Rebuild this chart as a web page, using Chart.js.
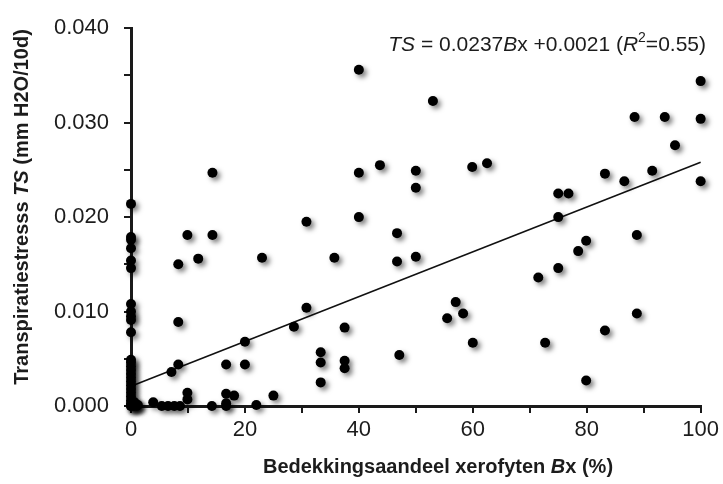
<!DOCTYPE html>
<html>
<head>
<meta charset="utf-8">
<script src="https://cdn.jsdelivr.net/npm/chart.js@4"></script>
<style>
  html, body { margin: 0; padding: 0; background: #fff; }
  #wrap { width: 723px; height: 484px; }
</style>
</head>
<body>
<div id="wrap"><canvas id="tsChart" width="723" height="484"></canvas></div>
<script>
// bedekkingsaandeel xerofyten (%) en transpiratiestress per opname
const coverX = [
  0, 0, 0, 0, 0, 0, 0, 0, 0, 0, 0, 0, 0, 0, 0, 0, 0, 0, 0, 0, 0, 0, 0, 0, 0, 0,
  0.5, 0.8, 1.0, 0.3, 1.2, 0.6,
  3.9, 5.4, 6.5, 7.6, 8.6, 7.1, 8.3, 8.3, 8.3, 9.9, 9.9, 9.9, 11.8, 14.3, 14.3, 14.2,
  16.7, 16.7, 16.7, 16.7, 18.1, 20.0, 20.0, 22.0, 23.0, 25.0, 28.6, 30.8, 30.8,
  33.3, 33.3, 33.3, 35.7, 37.5, 37.5, 37.5, 40.0, 40.0, 40.0, 43.7, 46.7, 46.7, 47.1,
  50.0, 50.0, 50.0, 53.0, 55.5, 57.0, 58.3, 60.0, 59.9, 62.5, 71.5, 72.7,
  75.0, 76.8, 75.0, 75.0, 78.5, 79.9, 79.9, 83.2, 83.2, 86.6, 88.4, 88.8, 88.8,
  91.5, 93.7, 95.5, 100, 100, 100
];
const stressTS = [
  0.0214, 0.0179, 0.0176, 0.0167, 0.0154, 0.0146, 0.0108, 0.0100, 0.0095, 0.0091, 0.0078,
  0.0049, 0.0046, 0.0042, 0.0038, 0.0034, 0.0030, 0.0026, 0.0022, 0.0018, 0.0014, 0.0010,
  0.0006, 0.0003, 0.0000, 0.0000,
  0.0000, 0.0002, 0.0000, 0.0001, 0.0001, 0.0004,
  0.0004, 0.0000, 0.0000, 0.0000, 0.0000, 0.0036, 0.0044, 0.0089, 0.0150, 0.0014, 0.0007, 0.0181,
  0.0156, 0.0181, 0.0247, 0.0000,
  0.0013, 0.0003, 0.0000, 0.0044, 0.0011, 0.0044, 0.0068, 0.0001, 0.0157, 0.0011, 0.0084,
  0.0104, 0.0195,
  0.0057, 0.0046, 0.0025, 0.0157, 0.0083, 0.0048, 0.0040, 0.0356, 0.0247, 0.0200, 0.0255,
  0.0183, 0.0153, 0.0054,
  0.0249, 0.0231, 0.0158, 0.0323, 0.0093, 0.0110, 0.0098, 0.0067, 0.0253, 0.0257, 0.0136, 0.0067,
  0.0225, 0.0225, 0.0200, 0.0146, 0.0164, 0.0175, 0.0027, 0.0246, 0.0080, 0.0238, 0.0306,
  0.0181, 0.0098,
  0.0249, 0.0306, 0.0276, 0.0344, 0.0304, 0.0238
];
// regressielijn TS = 0.0237 Bx + 0.0021
const fitX = [0, 100];
const fitTS = [0.0021, 0.0258];

const xTickLabels = ['0', '20', '40', '60', '80', '100'];
const yTickLabels = ['0.000', '0.010', '0.020', '0.030', '0.040'];

const FONT = "'Liberation Sans', Arial, sans-serif";
const INK = '#1c1c1c';

const points = coverX.map((x, i) => ({ x: x, y: stressTS[i] }));
const fitLine = fitX.map((x, i) => ({ x: x, y: fitTS[i] }));

// schaduw onder de stippen
const dotShadow = {
  id: 'dotShadow',
  beforeDatasetDraw(chart, args) {
    if (args.index !== 0) return;
    const c = chart.ctx;
    c.save();
    c.shadowColor = 'rgba(0,0,0,0.5)';
    c.shadowOffsetX = 3;
    c.shadowOffsetY = 3;
    c.shadowBlur = 5;
  },
  afterDatasetDraw(chart, args) {
    if (args.index !== 0) return;
    chart.ctx.restore();
  }
};

// teksten met cursieve delen
function drawParts(c, parts, x, y, align) {
  let total = 0;
  parts.forEach(p => { c.font = p.font; total += c.measureText(p.t).width; });
  let cx = align === 'right' ? x - total : (align === 'center' ? x - total / 2 : x);
  parts.forEach(p => {
    c.font = p.font;
    c.fillText(p.t, cx, y + (p.dy || 0));
    cx += c.measureText(p.t).width;
  });
}

const labelsPlugin = {
  id: 'labelsPlugin',
  afterDraw(chart) {
    const c = chart.ctx;
    c.save();
    c.fillStyle = INK;
    c.textBaseline = 'middle';

    const b = 'bold 20px ' + FONT, bi = 'bold italic 20px ' + FONT;
    drawParts(c, [
      { t: 'Bedekkingsaandeel xerofyten ', font: b },
      { t: 'B', font: bi },
      { t: 'x (%)', font: b }
    ], 438, 467, 'center');

    c.save();
    c.translate(22, 207);
    c.rotate(-Math.PI / 2);
    drawParts(c, [
      { t: 'Transpiratiestresss ', font: b },
      { t: 'TS', font: bi },
      { t: ' (mm H2O/10d)', font: b }
    ], 0, 0, 'center');
    c.restore();

    const r = '21px ' + FONT, ri = 'italic 21px ' + FONT;
    drawParts(c, [
      { t: 'TS', font: ri },
      { t: ' = 0.0237', font: r },
      { t: 'B', font: ri },
      { t: 'x +0.0021 (', font: r },
      { t: 'R', font: ri },
      { t: '2', font: '14px ' + FONT, dy: -7 },
      { t: '=0.55)', font: r }
    ], 706, 45, 'right');
    c.restore();
  }
};

const ctx = document.getElementById('tsChart').getContext('2d');
new Chart(ctx, {
  type: 'scatter',
  data: {
    datasets: [
      {
        label: 'opnames',
        data: points,
        backgroundColor: '#000',
        borderColor: '#000',
        pointRadius: 5,
        pointHoverRadius: 5,
        borderWidth: 0,
        clip: false
      },
      {
        label: 'regressie',
        type: 'line',
        data: fitLine,
        borderColor: '#111',
        borderWidth: 1.6,
        pointRadius: 0,
        fill: false,
        clip: false
      }
    ]
  },
  options: {
    responsive: false,
    animation: false,
    events: [],
    layout: { padding: { top: 22, right: 22, left: 0, bottom: 0 } },
    plugins: {
      legend: { display: false },
      tooltip: { enabled: false }
    },
    scales: {
      x: {
        type: 'linear',
        min: 0,
        max: 100,
        afterFit: s => { s.height = 78; },
        border: { display: true, color: '#1a1a1a', width: 3 },
        grid: { drawOnChartArea: false, drawTicks: true, tickLength: 7, color: '#1a1a1a', lineWidth: 2 },
        ticks: {
          stepSize: 10,
          padding: 4,
          color: INK,
          font: { family: FONT, size: 22 },
          maxRotation: 0,
          autoSkip: false,
          callback: v => {
            const i = xTickLabels.indexOf(String(Math.round(v)));
            return (Math.round(v) % 20 === 0 && i >= 0) ? xTickLabels[i] : '';
          }
        }
      },
      y: {
        min: 0,
        max: 0.04,
        afterFit: s => { s.width = 131; },
        border: { display: true, color: '#1a1a1a', width: 3 },
        grid: { drawOnChartArea: false, drawTicks: true, tickLength: 7, color: '#1a1a1a', lineWidth: 2 },
        ticks: {
          stepSize: 0.005,
          padding: 15,
          color: INK,
          font: { family: FONT, size: 22 },
          autoSkip: false,
          callback: v => {
            const m = Math.round(v * 1000);
            return m % 10 === 0 ? yTickLabels[m / 10] : '';
          }
        }
      }
    }
  },
  plugins: [dotShadow, labelsPlugin]
});
</script>
</body>
</html>
